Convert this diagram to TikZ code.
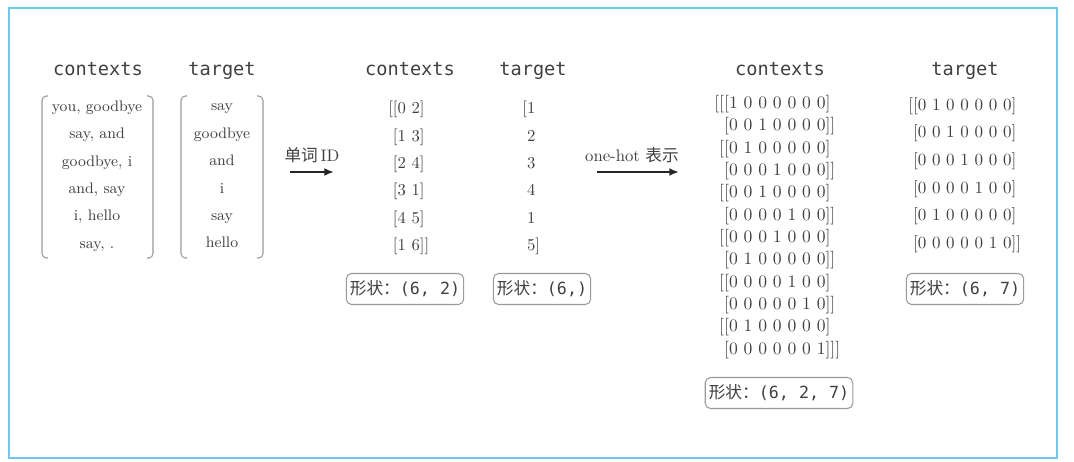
\documentclass[tikz,border=0pt]{standalone}
\usepackage{fontspec}
\setmonofont{DejaVu Sans Mono}
\newfontfamily\cjk{Noto Sans CJK SC}
\usetikzlibrary{arrows.meta,positioning}
\definecolor{frameblue}{HTML}{6CC8EE}
\definecolor{txtgray}{HTML}{404040}
\definecolor{linegray}{HTML}{9A9A9A}

\begin{document}
\begin{tikzpicture}[x=0.02cm, y=-0.02cm,
    head/.style={font=\fontsize{10.6}{13}\ttfamily, text=txtgray, anchor=base},
    words/.style={align=center, inner sep=0pt, text=txtgray, font=\fontsize{8.7}{15.6}\selectfont},
    nums/.style={align=left, anchor=west, inner sep=0pt, text=txtgray},
    brk/.style={draw=linegray, line width=0.6pt, rounded corners=2.5pt},
    shapebox/.style={draw=linegray, rounded corners=3pt, line width=0.6pt, text=txtgray,
                     minimum height=0.62cm, inner xsep=2pt, font=\fontsize{9.5}{11}\ttfamily},
    arr/.style={-{Latex[length=5.5pt,width=4.5pt]}, line width=1.1pt, black!85},
    lbl/.style={text=txtgray, font=\fontsize{9.5}{11}\selectfont}
]
    \useasboundingbox (0,0) rectangle (1074,461);
    \draw[frameblue, line width=1pt] (9,8) rectangle (1057,458);

    \node[head] (hctx1) at (98,75) {contexts};
    \node[head] (htgt1) at (222,75) {target};
    \node[head] (hctx2) at (410,75) {contexts};
    \node[head] (htgt2) at (533,75) {target};
    \node[head] (hctx3) at (780,75) {contexts};
    \node[head] (htgt3) at (965,75) {target};

    \node[words] (ctx1) at (97,176) {you, goodbye\\say, and\\goodbye, i\\and, say\\i, hello\\say, .};
    \node[words] (tgt1) at (222,176) {say\\goodbye\\and\\i\\say\\hello};
    \draw[brk] (48,96) -| (42,258) -- (48,258);
    \draw[brk] (147,96) -| (153,258) -- (147,258);
    \draw[brk] (187,96) -| (181,258) -- (187,258);
    \draw[brk] (257,96) -| (263,258) -- (257,258);

    \coordinate (a1s) at (290,172);
    \coordinate (a1e) at (334,172);
    \draw[arr] (a1s) -- (a1e);
    \node[lbl] (l1) at (312,155) {{\cjk 单词}\,ID};

    \node[nums, font=\fontsize{9.5}{15.6}\selectfont] (ctx2) at (388,178)
        {[[0 2]\\\phantom{[}[1 3]\\\phantom{[}[2 4]\\\phantom{[}[3 1]\\\phantom{[}[4 5]\\\phantom{[}[1 6]]};
    \node[nums, font=\fontsize{9.5}{15.6}\selectfont] (tgt2) at (522,178)
        {[1\\\phantom{[}2\\\phantom{[}3\\\phantom{[}4\\\phantom{[}1\\\phantom{[}5]};
    \node[shapebox] (shp1) at (405,289) {{\cjk 形状：}(6, 2)};
    \node[shapebox] (shp2) at (542,289) {{\cjk 形状：}(6,)};

    \coordinate (a2s) at (597,172);
    \coordinate (a2e) at (679,172);
    \draw[arr] (a2s) -- (a2e);
    \node[lbl] (l2) at (632,155) {one-hot {\cjk 表示}};

    \node[nums, font=\fontsize{10}{12.7}\selectfont] (ctx3) at (714,227)
        {[[[1 0 0 0 0 0 0]\\
         \phantom{[[}[0 0 1 0 0 0 0]]\\
         \phantom{[}[[0 1 0 0 0 0 0]\\
         \phantom{[[}[0 0 0 1 0 0 0]]\\
         \phantom{[}[[0 0 1 0 0 0 0]\\
         \phantom{[[}[0 0 0 0 1 0 0]]\\
         \phantom{[}[[0 0 0 1 0 0 0]\\
         \phantom{[[}[0 1 0 0 0 0 0]]\\
         \phantom{[}[[0 0 0 0 1 0 0]\\
         \phantom{[[}[0 0 0 0 0 1 0]]\\
         \phantom{[}[[0 1 0 0 0 0 0]\\
         \phantom{[[}[0 0 0 0 0 0 1]]]};
    \node[shapebox] (shp3) at (779,393) {{\cjk 形状：}(6, 2, 7)};

    \node[nums, font=\fontsize{9.7}{15.7}\selectfont] (tgt3) at (908,175)
        {[[0 1 0 0 0 0 0]\\
         \phantom{[}[0 0 1 0 0 0 0]\\
         \phantom{[}[0 0 0 1 0 0 0]\\
         \phantom{[}[0 0 0 0 1 0 0]\\
         \phantom{[}[0 1 0 0 0 0 0]\\
         \phantom{[}[0 0 0 0 0 1 0]]};
    \node[shapebox] (shp4) at (965,289) {{\cjk 形状：}(6, 7)};
\end{tikzpicture}
\end{document}
